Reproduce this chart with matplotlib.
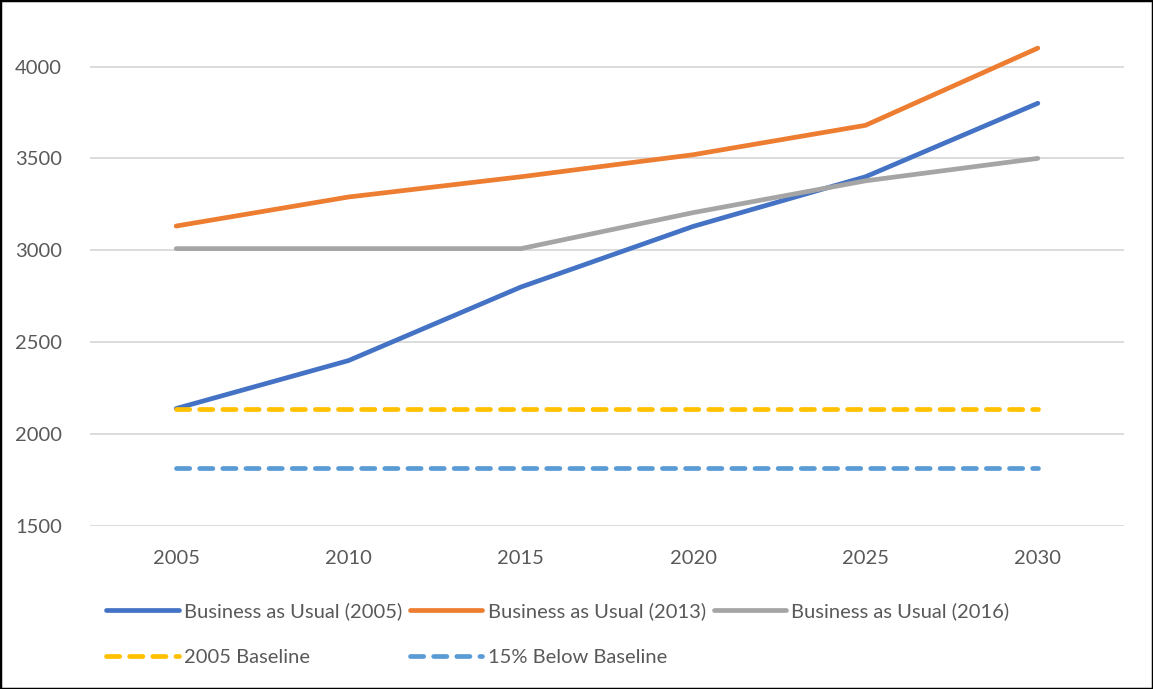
import matplotlib.pyplot as plt
from matplotlib.patches import Rectangle

years = [2005, 2010, 2015, 2020, 2025, 2030]
bau_2005 = [2139, 2400, 2800, 3130, 3400, 3800]
bau_2013 = [3132, 3290, 3400, 3520, 3680, 4100]
bau_2016 = [3009, 3009, 3009, 3205, 3378, 3500]
baseline_2005 = [2139] * 6
below_15 = [1818] * 6

plt.rcParams['font.family'] = ['Lato', 'DejaVu Sans']

fig = plt.figure(figsize=(11.53, 6.89), dpi=100)
ax = fig.add_axes([90 / 1153, 163 / 689, 1034 / 1153, 526 / 689])

lw = 3.4
l1, = ax.plot(years, bau_2005, color='#4472C4', lw=lw, solid_capstyle='round', label='Business as Usual (2005)')
l2, = ax.plot(years, bau_2013, color='#ED7D31', lw=lw, solid_capstyle='round', label='Business as Usual (2013)')
l3, = ax.plot(years, bau_2016, color='#A5A5A5', lw=lw, solid_capstyle='round', label='Business as Usual (2016)')
l4, = ax.plot(years, baseline_2005, color='#FFC000', lw=lw, dashes=(2.8, 2.1),
              dash_capstyle='round', label='2005 Baseline')
l5, = ax.plot(years, below_15, color='#5B9BD5', lw=lw, dashes=(2.8, 2.1),
              dash_capstyle='round', label='15% Below Baseline')
l2.set_zorder(3)

ax.set_xlim(2002.5, 2032.5)
ax.set_ylim(1500, 1500 + 526 / 91.9 * 500)
ax.set_xticks(years)
ax.set_yticks([1500, 2000, 2500, 3000, 3500, 4000])
ax.grid(axis='y', color='#D9D9D9', lw=1.3)
ax.set_axisbelow(True)
for s in ax.spines.values():
    s.set_visible(False)
ax.tick_params(length=0, labelsize=14.5, colors='#595959')
ax.tick_params(axis='x', pad=17)
ax.tick_params(axis='y', pad=20)

fig.legend(handles=[l1, l4, l2, l5, l3], ncol=3, loc='upper left',
           bbox_to_anchor=(88 / 1153, 1 - 584 / 689), frameon=False,
           fontsize=14.5, labelcolor='#595959', handlelength=3.6,
           handletextpad=0.25, columnspacing=0.4, labelspacing=1.44)

fig.patches.append(Rectangle((0, 0), 1, 1, transform=fig.transFigure,
                             fill=False, edgecolor='black', lw=2.5))

fig.savefig('out.png', dpi=100)
